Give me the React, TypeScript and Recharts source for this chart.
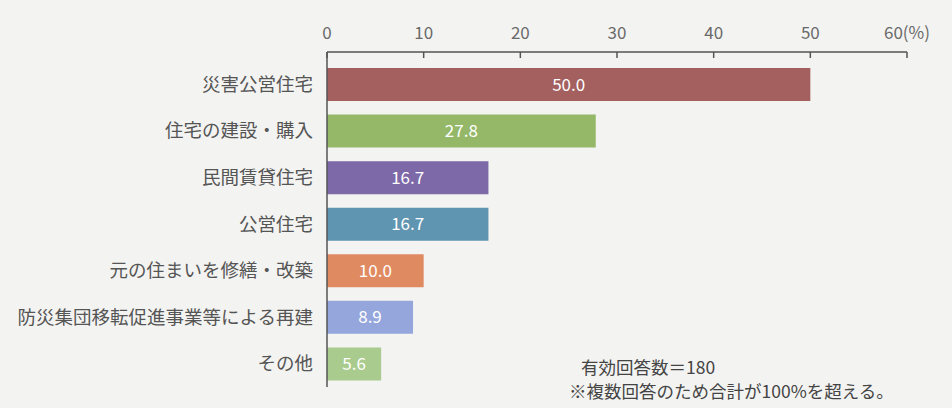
import React from 'react';
import { BarChart, Bar, XAxis, YAxis, Cell, LabelList } from 'recharts';

const categories = [
  '災害公営住宅',
  '住宅の建設・購入',
  '民間賃貸住宅',
  '公営住宅',
  '元の住まいを修繕・改築',
  '防災集団移転促進事業等による再建',
  'その他',
];
const values = [50.0, 27.8, 16.7, 16.7, 10.0, 8.9, 5.6];
const colors = ['#a45f5f', '#94b868', '#7d68a8', '#5f95b0', '#e08a62', '#94a6dc', '#a9cc8e'];
const xTicks = [0, 10, 20, 30, 40, 50, 60];
const notes = ['有効回答数＝180', '※複数回答のため合計が100%を超える。'];

const data = categories.map((name, i) => ({ name, value: values[i] }));

const FONT = '"Noto Sans CJK JP", "Noto Sans", sans-serif';

export default function App() {
  return (
    <div
      style={{
        position: 'absolute',
        left: 0,
        top: 0,
        width: 952,
        height: 408,
        background: '#f3f3f1',
        fontFamily: FONT,
      }}
    >
      <BarChart
        width={952}
        height={408}
        data={data}
        layout="vertical"
        margin={{ top: 12, right: 45, left: 0, bottom: 21 }}
        barSize={33}
      >
        <XAxis
          type="number"
          orientation="top"
          domain={[0, 60]}
          ticks={xTicks}
          tickFormatter={(v: number) => (v === 60 ? '60(%)' : String(v))}
          tick={{ fill: '#6a6a6a', fontSize: 17, fontFamily: FONT }}
          axisLine={{ stroke: '#555', strokeWidth: 1.5 }}
          tickLine={{ stroke: '#555', strokeWidth: 1.5 }}
          tickSize={-6}
          tickMargin={19}
          height={40}
        />
        <YAxis
          type="category"
          dataKey="name"
          width={327}
          padding={{ top: 9, bottom: 0 }}
          tick={{ fill: '#555', fontSize: 18.5, fontFamily: FONT }}
          axisLine={{ stroke: '#555', strokeWidth: 1.5 }}
          tickLine={false}
          tickMargin={8}
        />
        <Bar dataKey="value" isAnimationActive={false}>
          {data.map((d, i) => (
            <Cell key={d.name} fill={colors[i]} />
          ))}
          <LabelList
            dataKey="value"
            position="center"
            formatter={(v: number) => v.toFixed(1)}
            style={{ fill: '#fff', fontSize: 17, fontFamily: FONT }}
          />
        </Bar>
      </BarChart>
      <div
        style={{
          position: 'absolute',
          left: 581,
          top: 355,
          fontSize: 17.5,
          lineHeight: '24px',
          color: '#444',
          whiteSpace: 'nowrap',
        }}
      >
        {notes[0]}
      </div>
      <div
        style={{
          position: 'absolute',
          left: 569,
          top: 379,
          fontSize: 17.5,
          lineHeight: '24px',
          color: '#444',
          whiteSpace: 'nowrap',
        }}
      >
        {notes[1]}
      </div>
    </div>
  );
}
